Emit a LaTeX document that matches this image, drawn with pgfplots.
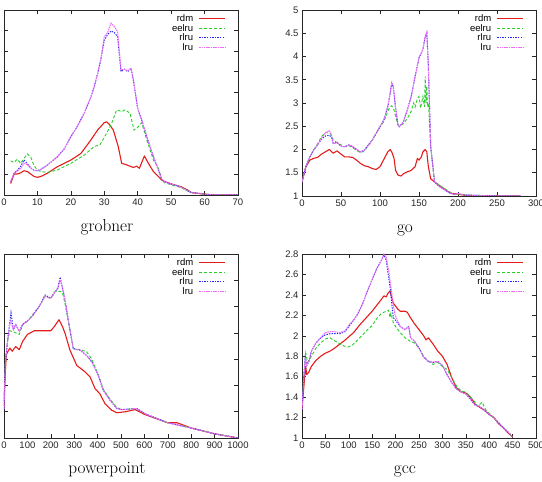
\documentclass[border=0pt]{standalone}
\usepackage{pgfplots}
\pgfplotsset{compat=1.18}
\usepackage{fontspec}
\newfontfamily\arial{Liberation Sans}

\definecolor{crdm}{RGB}{228,28,28}
\definecolor{ceelru}{RGB}{40,205,40}
\definecolor{crlru}{RGB}{35,35,250}
\definecolor{clru}{RGB}{235,110,245}

\pgfplotsset{
  panel/.style={
    scale only axis, anchor=south west, width=234pt,
    axis line style={line width=0.6pt, black!85},
    tick style={line width=0.5pt, black!85},
    major tick length=4pt,
    tick align=inside,
    ticklabel style={font=\arial\fontsize{9.5}{11}\selectfont, text=black!85},
    /pgf/number format/assume math mode=true,
    /pgf/number format/1000 sep={},
    scaled ticks=false,
    legend cell align=right,
    legend plot pos=right,
    legend image code/.code={\draw[##1] (0pt,0pt) -- (26pt,0pt);},
    legend style={draw=none, fill=none, inner sep=0pt, at={(1,1)}, anchor=north east,
      xshift=-12pt, yshift=-4pt, font=\arial\fontsize{9.5}{11}\selectfont,
      row sep=0pt, column sep=5pt,
      nodes={inner sep=0.5pt, text height=7pt, text depth=1.5pt}},
    xlabel style={font=\LARGE, at={(axis description cs:0.44,-0.195)}, anchor=base},
  },
  rdm/.style={crdm, line width=1.1pt, line join=round},
  eelru/.style={ceelru, line width=0.9pt, dash pattern=on 3pt off 2pt},
  rlru/.style={crlru, line width=1pt, dash pattern=on 1.3pt off 1.3pt},
  lru/.style={clru, line width=1pt, dash pattern=on 1.6pt off 0.7pt},
}

\begin{document}
\begin{tikzpicture}
\useasboundingbox (0,0) rectangle (542pt,482pt);

% grobner
\begin{axis}[panel, at={(4pt,287pt)}, height=185pt,
  xmin=0, xmax=70, ymin=1, ymax=5.5,
  xtick={0,10,...,70}, ytick={1,1.5,...,5.5}, yticklabels={},
  xlabel={grobner}]
\addplot[rdm] coordinates {(2,1.28)(3,1.51)(4,1.51)(5,1.54)(6,1.59)(7,1.57)(8,1.51)(9,1.45)(10,1.43)(11,1.45)(13,1.53)(16,1.69)(20,1.85)(23,2.01)(26,2.34)(28,2.58)(30,2.76)(30.7,2.78)(31.5,2.72)(32.7,2.58)(34.2,2.17)(35.2,1.77)(36.5,1.74)(37.7,1.7)(38.7,1.67)(39.7,1.7)(40.5,1.65)(42,1.95)(43.2,1.77)(44.7,1.57)(46.2,1.45)(47.2,1.36)(48,1.33)(50,1.27)(53,1.2)(55,1.12)(56,1.06)(58,1.04)(60,1.02)(63,1.0)(70,1.0)};
\addlegendentry{rdm}
\addplot[eelru] coordinates {(2,1.83)(3,1.79)(4,1.87)(5,1.77)(6,1.89)(7,2.0)(8,1.92)(9,1.71)(10,1.61)(11,1.57)(13,1.55)(16,1.61)(20,1.77)(24,1.97)(27,2.18)(28.7,2.22)(30,2.4)(31,2.55)(32.2,2.74)(33.7,3.07)(35.2,3.03)(36.2,3.07)(37.7,2.99)(38.9,2.58)(40.2,2.66)(41.2,2.76)(42.7,2.34)(44.7,1.85)(46.2,1.65)(47.2,1.36)(48,1.3)(50,1.25)(53,1.18)(55,1.1)(56,1.06)(58,1.04)(60,1.02)(63,1.0)(70,1.0)};
\addlegendentry{eelru}
\addplot[rlru] coordinates {(2,1.32)(3,1.53)(4,1.6)(5,1.7)(6,1.85)(7,1.76)(8,1.66)(9,1.6)(10,1.59)(11,1.62)(13,1.73)(16,1.93)(18,2.12)(20,2.42)(22,2.68)(24,2.99)(26,3.38)(27,3.64)(28,3.95)(29,4.3)(30,4.77)(31,4.9)(32,4.99)(33,4.95)(34,4.85)(35,4.0)(36,4.06)(37,4.0)(38,4.08)(38.7,3.8)(40,3.1)(41.2,2.82)(42.7,2.42)(44.7,1.93)(46.2,1.61)(47.2,1.39)(48,1.32)(50,1.27)(52,1.22)(53,1.19)(55,1.1)(56,1.06)(58,1.04)(60,1.02)(63,1.0)(70,1.0)};
\addlegendentry{rlru}
\addplot[lru] coordinates {(2,1.32)(3,1.53)(4,1.58)(5,1.65)(6,1.77)(7,1.74)(8,1.65)(9,1.6)(10,1.59)(11,1.62)(13,1.73)(16,1.93)(18,2.12)(20,2.42)(22,2.68)(24,2.99)(26,3.38)(27,3.64)(28,3.95)(29,4.32)(30,4.85)(31,4.95)(32,5.18)(33,5.1)(34,4.97)(35,4.04)(36,4.06)(37,4.02)(38,4.08)(38.7,3.8)(40,3.1)(41.2,2.82)(42.7,2.42)(44.7,1.93)(46.2,1.61)(47.2,1.39)(48,1.32)(50,1.27)(52,1.22)(53,1.19)(55,1.1)(56,1.06)(58,1.04)(60,1.02)(63,1.0)(70,1.0)};
\addlegendentry{lru}
\end{axis}

% go
\begin{axis}[panel, at={(302pt,286pt)}, height=186pt,
  xmin=0, xmax=300, ymin=1, ymax=5,
  xtick={0,50,...,300}, ytick={1,1.5,...,5},
  xlabel={go}]
\addplot[rdm] coordinates {(0,1.3)(5,1.63)(10,1.77)(15,1.81)(20,1.83)(25,1.9)(30,1.95)(35,2.0)(40,1.92)(45,1.97)(50,1.9)(55,1.84)(60,1.84)(65,1.83)(70,1.77)(75,1.7)(80,1.65)(85,1.63)(90,1.59)(95,1.57)(100,1.63)(105,1.79)(110,1.95)(113,2.0)(115,1.95)(118,1.81)(120,1.55)(123,1.45)(127,1.43)(130,1.48)(135,1.52)(140,1.55)(145,1.63)(148,1.81)(150,1.77)(153,1.84)(155,1.95)(158,2.0)(160,1.95)(162,1.63)(165,1.37)(170,1.3)(180,1.18)(190,1.06)(200,1.04)(210,1.01)(280,1.0)};
\addlegendentry{rdm}
\addplot[eelru] coordinates {(0,1.3)(5,1.63)(10,1.84)(15,1.99)(20,2.12)(25,2.28)(30,2.36)(35,2.36)(38,2.3)(40,2.2)(45,2.15)(50,2.1)(55,2.06)(60,2.08)(65,2.04)(70,1.98)(75,1.93)(80,1.97)(90,2.2)(100,2.49)(105,2.6)(110,2.82)(113,2.92)(115,2.94)(118,2.85)(120,2.71)(123,2.53)(125,2.52)(130,2.55)(135,2.67)(140,2.82)(143,3.0)(145,2.91)(148,3.1)(150,3.14)(152,2.89)(155,3.14)(157,2.92)(158,3.57)(159,3.0)(160,3.36)(161,2.92)(162,3.0)(165,2.06)(170,1.3)(175,1.25)(180,1.19)(190,1.08)(195,1.04)(200,1.04)(210,1.02)(250,1.0)(280,1.0)};
\addlegendentry{eelru}
\addplot[rlru] coordinates {(0,1.3)(5,1.63)(10,1.84)(15,1.99)(20,2.1)(25,2.22)(30,2.29)(35,2.31)(38,2.25)(40,2.13)(45,2.15)(50,2.07)(55,2.06)(60,2.1)(65,2.06)(70,2.0)(75,1.95)(80,1.99)(90,2.2)(100,2.49)(105,2.64)(110,2.92)(113,3.2)(115,3.42)(117,3.35)(120,2.89)(123,2.53)(125,2.49)(130,2.6)(135,2.85)(140,3.14)(145,3.57)(150,3.97)(153,4.08)(155,4.15)(158,4.42)(160,4.5)(162,3.79)(165,2.06)(170,1.3)(175,1.22)(180,1.16)(190,1.06)(195,1.04)(200,1.06)(205,1.03)(210,1.02)(230,1.01)(250,1.0)(280,1.0)};
\addlegendentry{rlru}
\addplot[lru] coordinates {(0,1.3)(5,1.63)(10,1.84)(15,1.99)(20,2.1)(25,2.24)(30,2.36)(35,2.41)(38,2.3)(40,2.13)(45,2.15)(50,2.07)(55,2.06)(60,2.1)(65,2.06)(70,2.0)(75,1.95)(80,1.99)(90,2.2)(100,2.49)(105,2.64)(110,2.92)(113,3.21)(115,3.44)(117,3.36)(120,2.89)(123,2.53)(125,2.49)(130,2.6)(135,2.85)(140,3.14)(145,3.57)(150,3.97)(153,4.08)(155,4.15)(158,4.44)(160,4.53)(162,3.79)(165,2.06)(170,1.3)(175,1.22)(180,1.16)(190,1.06)(195,1.04)(200,1.06)(205,1.03)(210,1.02)(230,1.01)(250,1.0)(280,1.0)};
\addlegendentry{lru}
\end{axis}

% powerpoint
\begin{axis}[panel, at={(4pt,44pt)}, height=184pt,
  xmin=0, xmax=1000, ymin=1, ymax=4.5,
  xtick={0,100,...,1000}, ytick={1,1.5,...,4.5}, yticklabels={},
  xlabel={powerpoint}]
\addplot[rdm] coordinates {(0,1.6)(5,2.2)(10,2.59)(25,2.71)(35,2.65)(50,2.74)(65,2.68)(80,2.84)(100,2.97)(130,3.04)(160,3.04)(200,3.04)(215,3.12)(235,3.25)(250,3.12)(261,2.99)(282,2.67)(311,2.38)(346,2.26)(368,2.16)(389,1.94)(410,1.84)(432,1.65)(460,1.53)(482,1.48)(520,1.5)(560,1.54)(600,1.45)(700,1.29)(740,1.29)(800,1.19)(900,1.08)(1000,1.0)};
\addlegendentry{rdm}
\addplot[eelru] coordinates {(0,1.7)(5,2.39)(15,2.84)(25,3.04)(40,3.02)(65,2.97)(80,3.16)(100,3.22)(150,3.5)(175,3.69)(200,3.66)(215,3.78)(240,3.79)(250,3.76)(261,3.55)(280,3.1)(296,2.7)(325,2.68)(353,2.64)(375,2.5)(403,2.2)(424,1.93)(453,1.74)(482,1.58)(503,1.54)(567,1.56)(603,1.46)(700,1.29)(800,1.19)(900,1.08)(1000,1.0)};
\addlegendentry{eelru}
\addplot[rlru] coordinates {(0,1.55)(3,2.0)(5,2.39)(15,2.84)(25,3.2)(30,3.38)(40,3.06)(50,3.16)(65,3.03)(80,3.16)(100,3.23)(120,3.31)(150,3.5)(175,3.72)(200,3.66)(215,3.76)(230,3.85)(240,4.06)(250,3.85)(261,3.62)(280,3.1)(296,2.7)(325,2.67)(353,2.57)(375,2.45)(403,2.19)(424,1.91)(453,1.72)(482,1.56)(503,1.54)(567,1.56)(603,1.46)(700,1.29)(800,1.19)(900,1.08)(1000,1.0)};
\addlegendentry{rlru}
\addplot[lru] coordinates {(0,1.55)(3,2.0)(5,2.39)(15,2.84)(25,3.16)(30,3.22)(40,3.06)(50,3.16)(65,3.03)(80,3.16)(100,3.23)(120,3.31)(150,3.5)(175,3.69)(200,3.66)(215,3.76)(230,3.85)(240,4.01)(250,3.85)(261,3.62)(280,3.1)(296,2.7)(325,2.67)(353,2.57)(375,2.45)(403,2.19)(424,1.91)(453,1.72)(482,1.56)(503,1.54)(567,1.56)(603,1.46)(700,1.29)(800,1.19)(900,1.08)(1000,1.0)};
\addlegendentry{lru}
\end{axis}

% gcc
\begin{axis}[panel, at={(302pt,44pt)}, height=184pt,
  xmin=0, xmax=500, ymin=1, ymax=2.8,
  xtick={0,50,...,500}, ytick={1,1.2,1.4,1.6,1.8,2,2.2,2.4,2.6,2.8},
  xlabel={gcc}]
\addplot[rdm] coordinates {(0,1.28)(5,1.56)(8,1.7)(10,1.62)(14,1.64)(20,1.7)(30,1.76)(40,1.8)(50,1.83)(60,1.85)(70,1.88)(81,1.92)(90,1.95)(100,1.99)(110,2.03)(124,2.11)(130,2.14)(140,2.19)(150,2.24)(160,2.3)(167,2.34)(175,2.39)(180,2.38)(183,2.41)(188,2.44)(192,2.37)(195,2.32)(200,2.29)(205,2.26)(210,2.24)(220,2.24)(225,2.23)(230,2.19)(240,2.12)(250,2.06)(260,2.0)(265,1.96)(270,1.98)(280,1.92)(290,1.85)(300,1.8)(310,1.72)(320,1.59)(330,1.49)(340,1.45)(350,1.44)(360,1.4)(370,1.33)(380,1.3)(390,1.27)(400,1.23)(410,1.2)(420,1.14)(430,1.1)(440,1.05)(450,1.01)};
\addlegendentry{rdm}
\addplot[eelru] coordinates {(0,1.33)(3,1.55)(8,1.83)(12,1.74)(20,1.8)(30,1.88)(40,1.93)(50,1.97)(60,1.98)(70,1.95)(81,1.92)(90,1.9)(99,1.89)(108,1.91)(117,1.95)(130,2.01)(140,2.06)(150,2.1)(160,2.17)(170,2.22)(180,2.24)(185,2.25)(188,2.18)(190,2.22)(195,2.13)(200,2.09)(210,2.03)(220,1.98)(230,1.95)(240,1.93)(250,1.88)(260,1.8)(270,1.75)(280,1.72)(290,1.74)(300,1.7)(310,1.67)(320,1.59)(330,1.51)(340,1.46)(350,1.45)(360,1.4)(370,1.35)(375,1.31)(385,1.35)(392,1.28)(400,1.24)(420,1.15)(440,1.06)(450,1.01)};
\addlegendentry{eelru}
\addplot[rlru] coordinates {(0,1.28)(3,1.53)(7,1.79)(10,1.71)(15,1.75)(20,1.85)(30,1.93)(40,1.98)(50,2.01)(60,2.02)(70,2.02)(81,2.02)(92,2.04)(103,2.11)(110,2.15)(120,2.22)(130,2.32)(140,2.44)(150,2.55)(160,2.66)(170,2.74)(175,2.79)(180,2.74)(188,2.48)(195,2.18)(200,2.15)(210,2.09)(220,2.06)(228,2.09)(232,1.98)(240,1.95)(250,1.88)(260,1.79)(270,1.75)(280,1.74)(290,1.75)(300,1.71)(310,1.62)(320,1.54)(330,1.48)(340,1.45)(350,1.43)(360,1.38)(370,1.32)(380,1.31)(390,1.27)(400,1.23)(410,1.2)(420,1.15)(430,1.1)(440,1.06)(450,1.01)};
\addlegendentry{rlru}
\addplot[lru] coordinates {(0,1.28)(3,1.53)(7,1.79)(10,1.71)(15,1.75)(20,1.85)(30,1.93)(40,1.98)(50,2.03)(60,2.04)(70,2.04)(81,2.03)(92,2.05)(103,2.12)(110,2.15)(120,2.22)(130,2.32)(140,2.44)(150,2.55)(160,2.66)(170,2.74)(175,2.8)(180,2.77)(185,2.64)(190,2.48)(195,2.3)(199,2.2)(205,2.14)(210,2.09)(220,2.06)(228,2.09)(232,1.98)(240,1.95)(250,1.88)(260,1.79)(270,1.75)(280,1.74)(290,1.75)(300,1.71)(310,1.62)(320,1.54)(330,1.48)(340,1.45)(350,1.43)(360,1.38)(370,1.32)(380,1.31)(390,1.27)(400,1.23)(410,1.2)(420,1.15)(430,1.1)(440,1.06)(450,1.01)};
\addlegendentry{lru}
\end{axis}
\end{tikzpicture}
\end{document}
